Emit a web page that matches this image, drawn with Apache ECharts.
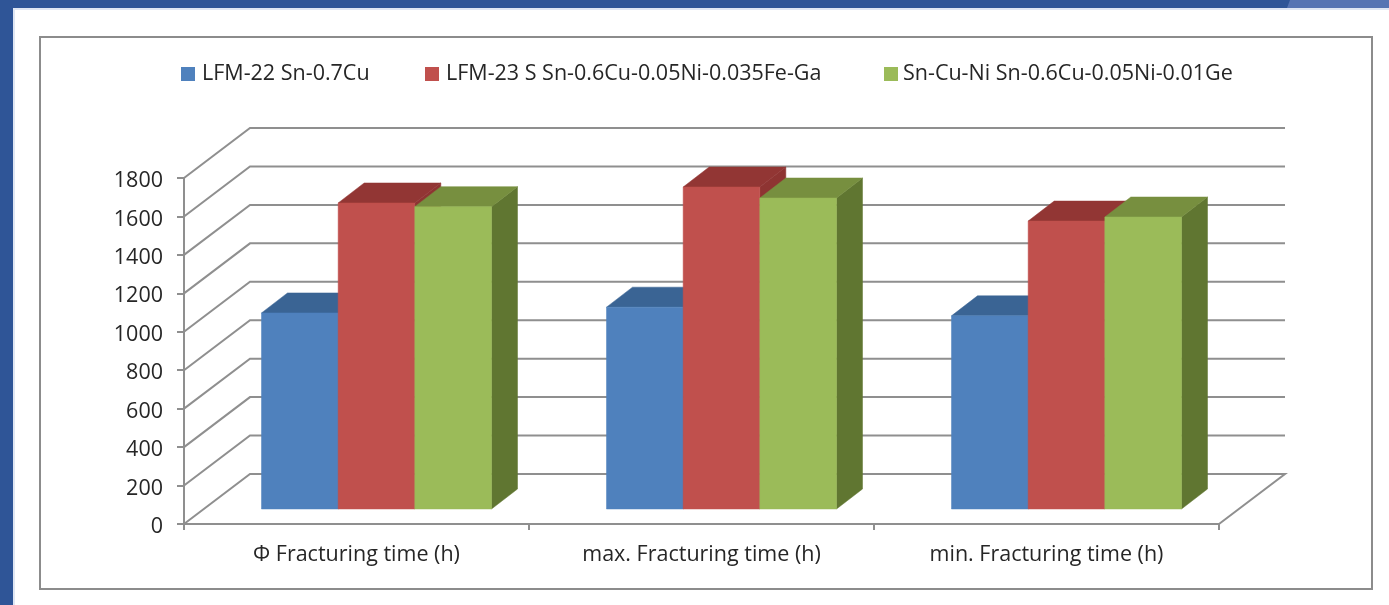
<!DOCTYPE html>
<html>
<head>
<meta charset="utf-8">
<style>html,body{margin:0;padding:0;background:#fff}#chart{width:1389px;height:605px}</style>
<script src="https://cdn.jsdelivr.net/npm/echarts@6/dist/echarts.min.js"></script>
</head>
<body>
<div id="chart"></div>
<script>
// Fracturing time per solder alloy, drawn as a 3-D style clustered column chart.
const categories = ['Φ Fracturing time (h)', 'max. Fracturing time (h)', 'min. Fracturing time (h)'];
const seriesNames = ['LFM-22 Sn-0.7Cu', 'LFM-23 S Sn-0.6Cu-0.05Ni-0.035Fe-Ga', 'Sn-Cu-Ni Sn-0.6Cu-0.05Ni-0.01Ge'];
const lfm22 = [1020, 1050, 1005];
const lfm23 = [1592, 1675, 1498];
const snCuNi = [1573, 1618, 1519];
const valueTicks = [0, 200, 400, 600, 800, 1000, 1200, 1400, 1600, 1800];

const faceColors = [
  { front: '#4f81bd', top: '#3a6494', side: '#3a6494' },
  { front: '#c0504d', top: '#923634', side: '#8e3432' },
  { front: '#9bbb59', top: '#778f3f', side: '#607631' }
];
const fontFamily = '"Open Sans", sans-serif';
const textColor = '#262626';
const wallColor = '#8f8f8f';

// Oblique projection: full floor depth, plus where a column's faces sit on it.
const wall = { dx: 66, dy: -50 };
const barFront = { dx: 20, dy: -15 };
const barDepth = { dx: 26, dy: -20 };

function renderWallLine(params, api) {
  const c = params.coordSys;
  const p = api.coord([0, api.value(1)]);
  const y = p[1];
  const pts = [[c.x, y], [c.x + wall.dx, y + wall.dy], [c.x + c.width + wall.dx, y + wall.dy]];
  if (api.value(1) === 0) pts.push([c.x + c.width, y]);
  return {
    type: 'polyline', silent: true,
    shape: { points: pts },
    style: { fill: 'none', stroke: wallColor, lineWidth: 2 }
  };
}

function columnRenderer(slot) {
  return function (params, api) {
    const cat = api.value(0);
    const top = api.coord([cat, api.value(1)]);
    const base = api.coord([cat, 0]);
    const w = api.size([1, 0])[0] / 4.5;
    const x0 = top[0] + barFront.dx + (slot - 1.5) * w;
    const x1 = x0 + w;
    const yT = top[1] + barFront.dy;
    const yB = base[1] + barFront.dy;
    const dx = barDepth.dx, dy = barDepth.dy;
    const col = faceColors[slot];
    const face = (points, fill) => ({
      type: 'polygon', shape: { points }, style: { fill, stroke: fill, lineWidth: 0.5 }
    });
    return {
      type: 'group',
      children: [
        face([[x1, yT], [x1 + dx, yT + dy], [x1 + dx, yB + dy], [x1, yB]], col.side),
        face([[x0, yT], [x0 + dx, yT + dy], [x1 + dx, yT + dy], [x1, yT]], col.top),
        face([[x0, yT], [x1, yT], [x1, yB], [x0, yB]], col.front)
      ]
    };
  };
}

function columnSeries(slot, values) {
  return {
    type: 'custom',
    name: seriesNames[slot],
    renderItem: columnRenderer(slot),
    coordinateSystem: 'cartesian2d',
    clip: false,
    z: 3 + slot,
    itemStyle: { color: faceColors[slot].front },
    encode: { x: 0, y: 1 },
    data: values.map((v, i) => [i, v])
  };
}

function legendAt(slot, left, gap) {
  return {
    left, top: 63, padding: 0, data: [seriesNames[slot]],
    icon: 'rect', itemWidth: 14, itemHeight: 14, itemGap: 0,
    selectedMode: false,
    textStyle: { fontFamily, fontSize: 21.5, color: textColor, padding: [0, 0, 0, gap] }
  };
}

const chart = echarts.init(document.getElementById('chart'), null, { renderer: 'canvas' });
chart.setOption({
  animation: false,
  backgroundColor: '#ffffff',
  graphic: [
    { type: 'rect', z: -1, shape: { x: 0, y: 0, width: 15, height: 605 }, style: { fill: '#dfe6f3' } },
    { type: 'rect', z: -1, shape: { x: 0, y: 0, width: 1389, height: 10 }, style: { fill: '#dfe6f3' } },
    { type: 'rect', z: -1, shape: { x: 0, y: 0, width: 13, height: 605 }, style: { fill: '#2f5597' } },
    { type: 'rect', z: -1, shape: { x: 0, y: 0, width: 1389, height: 8 }, style: { fill: '#2f5597' } },
    { type: 'polygon', z: -1, shape: { points: [[1290, 0], [1389, 0], [1389, 8], [1287, 8]] }, style: { fill: '#5674b3' } },
    { type: 'rect', z: -1, shape: { x: 40, y: 37, width: 1332, height: 552 }, style: { fill: '#ffffff', stroke: '#8c8c8c', lineWidth: 2 } }
  ],
  legend: [legendAt(0, 181, 2), legendAt(1, 425, 2), legendAt(2, 884, 0)],
  grid: { left: 184, right: 170, top: 178, bottom: 81 },
  xAxis: {
    type: 'category',
    data: categories,
    axisLine: { lineStyle: { color: wallColor, width: 2 } },
    axisTick: { show: true, alignWithLabel: false, length: 6, lineStyle: { color: wallColor, width: 2 } },
    axisLabel: { fontFamily, fontSize: 21.5, color: textColor, margin: 20 },
    splitLine: { show: false }
  },
  yAxis: {
    type: 'value', min: 0, max: 1800, interval: 200,
    axisLine: { show: true, lineStyle: { color: wallColor, width: 2 } },
    axisTick: { show: true, length: 7, lineStyle: { color: wallColor, width: 2 } },
    axisLabel: {
      fontFamily, fontSize: 21.5, color: textColor, margin: 21,
      verticalAlign: 'top', lineHeight: 22, padding: [-8, 0, 0, 0],
      formatter: v => String(v)
    },
    splitLine: { show: false }
  },
  series: [
    {
      type: 'custom',
      name: 'walls',
      renderItem: renderWallLine,
      coordinateSystem: 'cartesian2d',
      clip: false,
      silent: true,
      z: 1,
      encode: { x: 0, y: 1 },
      data: valueTicks.map(t => [0, t])
    },
    columnSeries(0, lfm22),
    columnSeries(1, lfm23),
    columnSeries(2, snCuNi)
  ]
});
</script>
</body>
</html>
